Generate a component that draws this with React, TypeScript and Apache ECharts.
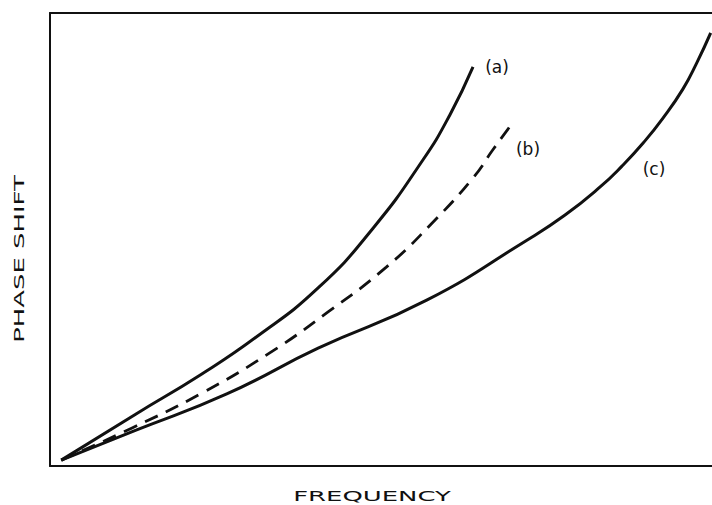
import React, { useEffect, useRef } from "react";
import * as echarts from "echarts";

// Curve values (frequency, phase shift), arbitrary 0–100 units
const curveA: [number, number][] = [
  [1.7, 1.3], [13.0, 11.5], [22.7, 20.1], [31.0, 28.3], [40.5, 39.3],
  [48.8, 52.5], [56.3, 67.5], [60.4, 77.5], [63.9, 88.1],
];
const curveB: [number, number][] = [
  [1.7, 1.3], [12.4, 8.4], [22.7, 15.9], [32.9, 24.7], [41.8, 33.8],
  [50.8, 43.9], [57.7, 53.6], [63.9, 63.6], [66.9, 69.8], [70.1, 76.2],
];
const curveC: [number, number][] = [
  [1.7, 1.3], [13.0, 7.9], [26.7, 15.9], [40.5, 26.0], [56.9, 36.6],
  [72.1, 49.9], [77.8, 55.4], [83.1, 61.6], [86.4, 66.2], [89.6, 71.3],
  [92.6, 76.8], [95.6, 83.2], [97.7, 89.0], [99.8, 95.6],
];
const curveLabels = ["(a)", "(b)", "(c)"];
const xTitle = "FREQUENCY";
const yTitle = "PHASE SHIFT";

const ink = "#111111";
const font = "'DejaVu Sans', sans-serif";

export default function App() {
  const ref = useRef<HTMLDivElement>(null);
  useEffect(() => {
    if (!ref.current) return;
    const chart = echarts.init(ref.current, null, { renderer: "svg" });
    const hiddenAxis = {
      min: 0,
      max: 100,
      axisLabel: { show: false },
      axisTick: { show: false },
      splitLine: { show: false },
      axisLine: { show: true, onZero: false, lineStyle: { color: ink, width: 2 } },
    };
    const lineCommon = { type: "line", smooth: 0.5, showSymbol: false };
    chart.setOption({
      animation: false,
      backgroundColor: "#ffffff",
      grid: { left: 50, top: 13, right: 0, bottom: 39 },
      xAxis: [
        { type: "value", position: "bottom", ...hiddenAxis },
        { type: "value", position: "top", ...hiddenAxis },
      ],
      yAxis: [{ type: "value", position: "left", ...hiddenAxis }],
      series: [
        { ...lineCommon, data: curveA, lineStyle: { color: ink, width: 3 } },
        { ...lineCommon, data: curveB, lineStyle: { color: ink, width: 2.8, type: [14, 9] } },
        { ...lineCommon, data: curveC, lineStyle: { color: ink, width: 3 } },
      ],
      graphic: [
        {
          type: "text", x: 497, y: 67,
          style: { text: curveLabels[0], fill: ink, font: `17px ${font}`, align: "center", verticalAlign: "middle" },
        },
        {
          type: "text", x: 528, y: 149,
          style: { text: curveLabels[1], fill: ink, font: `17px ${font}`, align: "center", verticalAlign: "middle" },
        },
        {
          type: "text", x: 654, y: 169,
          style: { text: curveLabels[2], fill: ink, font: `17px ${font}`, align: "center", verticalAlign: "middle" },
        },
        {
          type: "text", x: 372, y: 496, scaleX: 1.85, scaleY: 1,
          style: { text: xTitle, fill: ink, font: `14px ${font}`, align: "center", verticalAlign: "middle" },
        },
        {
          type: "text", x: 19, y: 259, rotation: Math.PI / 2, scaleX: 1.85, scaleY: 1,
          style: { text: yTitle, fill: ink, font: `14px ${font}`, align: "center", verticalAlign: "middle" },
        },
      ],
    });
    return () => chart.dispose();
  }, []);
  return (
    <div
      ref={ref}
      style={{ position: "fixed", left: 0, top: 0, width: 712, height: 505 }}
    />
  );
}
